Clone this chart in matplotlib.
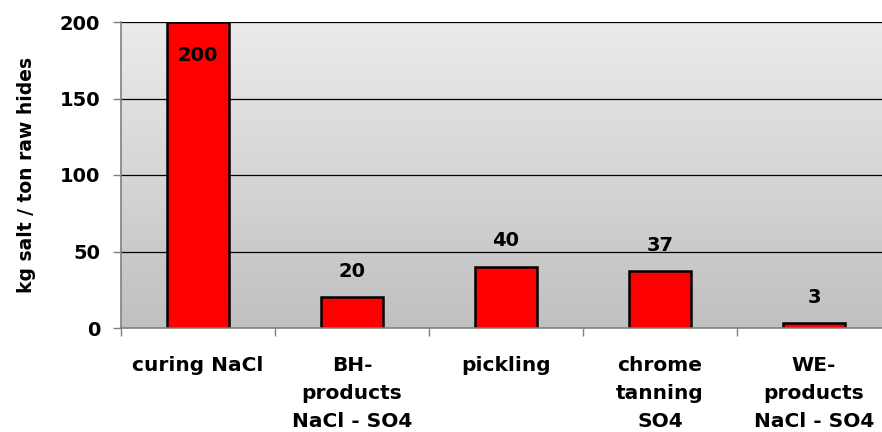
import numpy as np
import matplotlib.pyplot as plt
from matplotlib.colors import LinearSegmentedColormap

plt.rcParams['font.family'] = ['DejaVu Sans']
plt.rcParams['font.weight'] = 'bold'

categories = ["curing NaCl", "BH-\nproducts\nNaCl - SO4", "pickling",
              "chrome\ntanning\nSO4", "WE-\nproducts\nNaCl - SO4"]
values = [200, 20, 40, 37, 3]
yticks = [0, 50, 100, 150, 200]

fig = plt.figure(figsize=(8.82, 4.32), dpi=100)
ax = fig.add_axes([121 / 882, 1 - 328 / 432, 770 / 882, 306 / 432])

x = np.arange(len(categories))
ax.set_xlim(-0.5, len(categories) - 0.5)
ax.set_ylim(0, 200)

# grey gradient behind the bars
grad = np.linspace(0, 1, 256).reshape(-1, 1)
cmap = LinearSegmentedColormap.from_list("bg", ["#c0c0c0", "#ebebeb"])
ax.imshow(grad, aspect="auto", cmap=cmap, origin="lower",
          extent=[-0.5, len(categories) - 0.5, 0, 200], zorder=0)

for y in yticks[1:]:
    ax.axhline(y, color="black", linewidth=0.9, zorder=1)

ax.bar(x, values, width=0.4, color="#ff0000", edgecolor="black",
       linewidth=1.8, zorder=2)

for xi, v in zip(x, values):
    off = -24 if v >= 150 else 19
    ax.annotate(str(v), (xi, v), xytext=(0, off), textcoords="offset points",
                ha="center", va="center", fontsize=14, fontweight="bold")

ax.set_yticks(yticks)
ax.set_yticklabels([str(t) for t in yticks], fontsize=14, fontweight="bold")
ax.tick_params(axis="y", length=6, width=1, color="#808080", pad=9)

ax.set_xticks(np.arange(len(categories) + 1) - 0.5, minor=False)
ax.set_xticklabels([])
ax.set_xticks(x, minor=True)
ax.set_xticklabels(categories, minor=True, fontsize=14.5, fontweight="bold",
                   linespacing=1.6, va="top")
ax.tick_params(axis="x", which="major", length=6, width=1, color="#808080")
ax.tick_params(axis="x", which="minor", length=0, pad=20)

for side in ["top", "right"]:
    ax.spines[side].set_visible(False)
for side in ["left", "bottom"]:
    ax.spines[side].set_color("#808080")
    ax.spines[side].set_linewidth(1.2)

ax.set_ylabel("kg salt / ton raw hides", fontsize=13.5, fontweight="bold", labelpad=17)

fig.savefig("out.png", dpi=100)
